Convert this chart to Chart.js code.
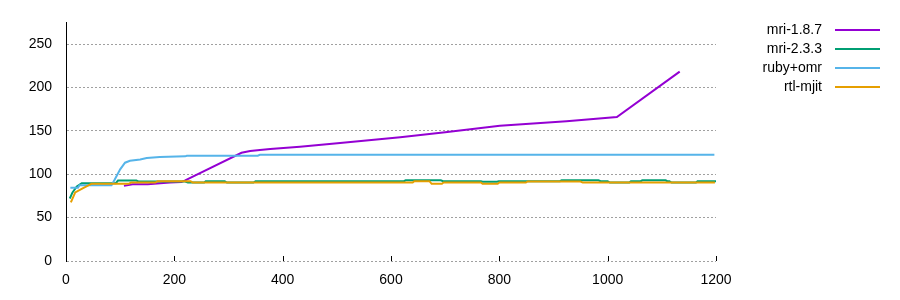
<!DOCTYPE html>
<html>
<head>
<meta charset="utf-8">
<script src="https://cdn.jsdelivr.net/npm/chart.js@4.4.1/dist/chart.umd.min.js"></script>
<style>
  body { margin: 0; background: #fff; }
  canvas { display: block; }
</style>
</head>
<body>
<canvas id="perfChart" width="900" height="300"></canvas>
<script>
// Series names and colours (gnuplot default palette)
const seriesNames = ['mri-1.8.7', 'mri-2.3.3', 'ruby+omr', 'rtl-mjit'];
const seriesColors = ['#9400d3', '#009e73', '#56b4e9', '#e69f00'];

// Axis ticks
const xTicks = [0, 200, 400, 600, 800, 1000, 1200];
const yTicks = [0, 50, 100, 150, 200, 250];

// mri-1.8.7
const mri187X = [107, 123, 151, 174, 192, 213, 220, 324, 340, 358, 377, 432, 506, 617, 700, 801, 924, 1017, 1133];
const mri187Y = [86.6, 88.5, 88.5, 89.7, 90.4, 91, 93, 124.7, 126.7, 127.8, 129, 131.6, 136, 142.7, 148.5, 156, 161, 166, 218.2];

// mri-2.3.3
const mri233X = [7, 12, 20, 29, 92, 96, 130, 134, 220, 225, 255, 258, 293, 297, 346, 350, 624, 627, 692, 696, 766, 769, 796, 799, 912, 915, 983, 987, 1000, 1004, 1040, 1043, 1061, 1064, 1107, 1110, 1114, 1118, 1163, 1166, 1200];
const mri233Y = [72, 79, 86, 89.7, 89.7, 92.7, 92.7, 91.5, 91.5, 90.4, 90.4, 92, 92, 90.4, 90.4, 92, 92, 93, 93, 92, 92, 91.3, 91.3, 92, 92, 93, 93, 92, 92, 90.4, 90.4, 92, 92, 93, 93, 92, 92, 90.4, 90.4, 92, 92];

// ruby+omr
const omrX = [8, 22, 25, 84, 90, 100, 109, 118, 137, 149, 173, 220, 223, 354, 358, 1197];
const omrY = [84.3, 84.3, 87.4, 87.4, 94, 105.7, 113.3, 115.5, 117, 118.6, 120, 120.6, 121.3, 121.3, 122.4, 122.4];

// rtl-mjit
const mjitX = [9, 17, 29, 44, 47, 116, 120, 165, 169, 230, 234, 640, 643, 671, 675, 694, 697, 766, 769, 797, 800, 849, 852, 950, 954, 1198];
const mjitY = [67.5, 79, 83, 88, 89, 89, 90.4, 90.4, 92, 92, 90.4, 90.4, 92, 92, 89, 89, 90.4, 90.4, 89, 89, 90.4, 90.4, 91.6, 91.6, 90.4, 90.4];

const seriesX = [mri187X, mri233X, omrX, mjitX];
const seriesY = [mri187Y, mri233Y, omrY, mjitY];

function toPoints(xs, ys) {
    return xs.map((x, i) => ({ x: x, y: ys[i] }));
}

const FONT = '"Liberation Sans", Arial, sans-serif';

// tick marks pointing inward on the x axis + gnuplot style key on the right
const gnuplotExtras = {
    id: 'gnuplotExtras',
    afterDraw(chart) {
        const c = chart.ctx;
        const area = chart.chartArea;
        const xScale = chart.scales.x;
        c.save();
        c.strokeStyle = '#000';
        c.lineWidth = 1;
        xTicks.forEach(v => {
            if (v === 0) return;
            const px = Math.round(xScale.getPixelForValue(v)) + 0.5;
            c.beginPath();
            c.moveTo(px, area.bottom);
            c.lineTo(px, area.bottom - 5);
            c.stroke();
        });

        c.font = '14px ' + FONT;
        c.textAlign = 'right';
        c.textBaseline = 'middle';
        chart.data.datasets.forEach((ds, i) => {
            const y = 30 + i * 19;
            c.fillStyle = '#000';
            c.fillText(ds.label, 822, y);
            c.strokeStyle = ds.borderColor;
            c.lineWidth = 2;
            c.beginPath();
            c.moveTo(835, y);
            c.lineTo(880, y);
            c.stroke();
        });
        c.restore();
    }
};

const datasets = seriesNames.map((name, i) => ({
    label: name,
    data: toPoints(seriesX[i], seriesY[i]),
    borderColor: seriesColors[i],
    backgroundColor: seriesColors[i],
    borderWidth: 2,
    pointRadius: 0,
    tension: 0,
    fill: false,
    order: seriesNames.length - i // later series drawn on top, like gnuplot
}));

const ctx = document.getElementById('perfChart').getContext('2d');
new Chart(ctx, {
    type: 'line',
    data: { datasets: datasets },
    options: {
        responsive: false,
        animation: false,
        layout: { padding: { left: 0, right: 184, top: 20, bottom: 0 } },
        plugins: {
            legend: { display: false },
            tooltip: { enabled: false }
        },
        scales: {
            x: {
                type: 'linear',
                min: 0,
                max: 1200,
                afterBuildTicks: scale => { scale.ticks = xTicks.map(v => ({ value: v })); },
                afterFit: scale => { scale.height = 39; },
                ticks: {
                    color: '#000',
                    font: { family: FONT, size: 14 },
                    padding: 3,
                    maxRotation: 0,
                    callback: v => String(v)
                },
                grid: { display: false },
                border: { display: false }
            },
            y: {
                min: 0,
                max: 275,
                afterBuildTicks: scale => { scale.ticks = yTicks.map(v => ({ value: v })); },
                afterFit: scale => { scale.width = 66; },
                ticks: {
                    color: '#000',
                    font: { family: FONT, size: 14 },
                    padding: 14,
                    callback: v => String(v)
                },
                grid: { color: '#a0a0a0', lineWidth: 1, drawTicks: false },
                border: { display: true, color: '#000', width: 1, dash: [2, 2] }
            }
        }
    },
    plugins: [gnuplotExtras]
});
</script>
</body>
</html>
